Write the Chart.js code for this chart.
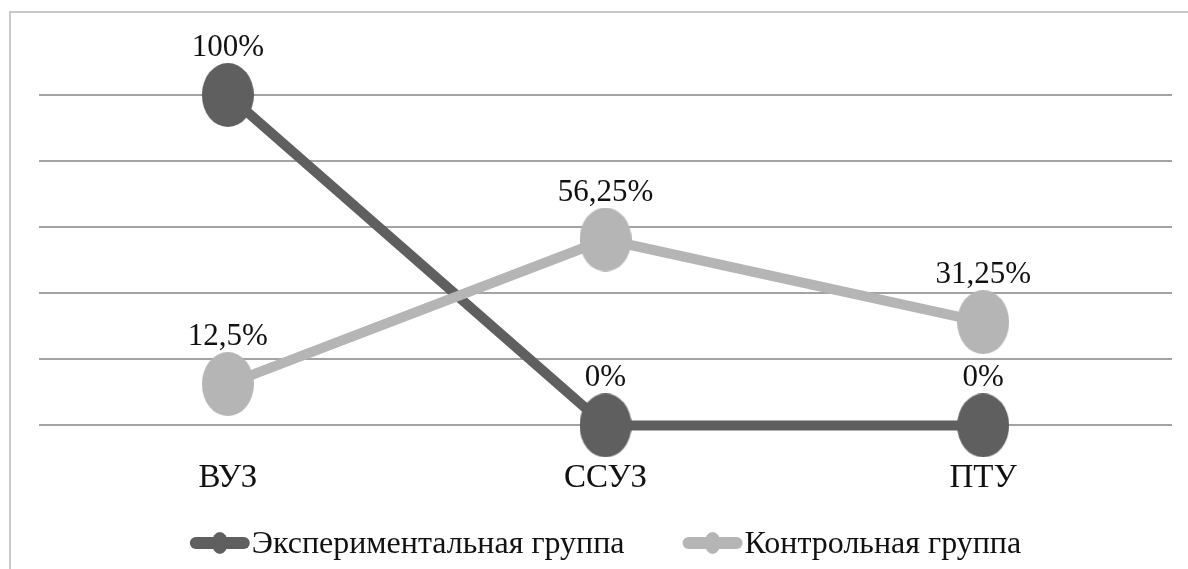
<!DOCTYPE html>
<html>
<head>
<meta charset="utf-8">
<script src="https://cdn.jsdelivr.net/npm/chart.js@4.4.1/dist/chart.umd.min.js"></script>
<style>
    html, body { margin: 0; padding: 0; background: #fff; }
    #wrap { position: relative; width: 1188px; height: 569px; overflow: hidden; }
    #frame { position: absolute; left: 9px; top: 11px; width: 1200px; height: 600px;
             border-left: 2px solid #c9c9c9; border-top: 2px solid #c9c9c9; }
    canvas { position: absolute; left: 0; top: 0; }
</style>
</head>
<body>
<div id="wrap">
    <div id="frame"></div>
    <canvas id="chart" width="1188" height="569"></canvas>
</div>
<script>
const categories = ['ВУЗ', 'ССУЗ', 'ПТУ'];
const seriesNames = ['Экспериментальная группа', 'Контрольная группа'];
const experimentalValues = [100, 0, 0];
const controlValues = [12.5, 56.25, 31.25];
const yTicks = [0, 20, 40, 60, 80, 100];

const DARK = '#5f5f5f';
const LIGHT = '#b5b5b5';
const FAMILY = '"Liberation Serif", "Times New Roman", serif';

function fmt(v) {
    return String(v).replace('.', ',') + '%';
}

// excel-like oval markers
function oval(color, w, h) {
    const c = document.createElement('canvas');
    c.width = w;
    c.height = h;
    const ctx = c.getContext('2d');
    ctx.fillStyle = color;
    ctx.beginPath();
    ctx.ellipse(w / 2, h / 2, w / 2, h / 2, 0, 0, Math.PI * 2);
    ctx.fill();
    return c;
}

const valueLabels = {
    id: 'valueLabels',
    afterDatasetsDraw(chart) {
        const ctx = chart.ctx;
        ctx.save();
        ctx.font = '31px ' + FAMILY;
        ctx.fillStyle = '#111';
        ctx.textAlign = 'center';
        ctx.textBaseline = 'alphabetic';
        chart.data.datasets.forEach((ds, i) => {
            chart.getDatasetMeta(i).data.forEach((pt, j) => {
                ctx.fillText(fmt(ds.data[j]), pt.x, pt.y - 39);
            });
        });
        ctx.restore();
    }
};

const lineLegend = {
    id: 'lineLegend',
    afterDraw(chart) {
        const ctx = chart.ctx;
        const sampleW = 60, gap = 2, itemGap = 58;
        ctx.save();
        ctx.font = '32px ' + FAMILY;
        const items = chart.data.datasets.map(ds => ({
            ds: ds,
            w: sampleW + gap + ctx.measureText(ds.label).width
        }));
        const total = items.reduce((a, it) => a + it.w, 0) + itemGap * (items.length - 1);
        let x = (chart.chartArea.left + chart.chartArea.right) / 2 - total / 2;
        const y = chart.height - 26;
        items.forEach(it => {
            ctx.strokeStyle = it.ds.borderColor;
            ctx.lineWidth = 12;
            ctx.lineCap = 'round';
            ctx.beginPath();
            ctx.moveTo(x + 6, y);
            ctx.lineTo(x + sampleW - 6, y);
            ctx.stroke();
            ctx.fillStyle = it.ds.borderColor;
            ctx.beginPath();
            ctx.ellipse(x + sampleW / 2, y, 8, 11, 0, 0, Math.PI * 2);
            ctx.fill();
            ctx.fillStyle = '#111';
            ctx.textBaseline = 'middle';
            ctx.fillText(it.ds.label, x + sampleW + gap, y + 2);
            x += it.w + itemGap;
        });
        ctx.restore();
    }
};

Chart.defaults.font.family = FAMILY;

new Chart(document.getElementById('chart'), {
    type: 'line',
    data: {
        labels: categories,
        datasets: [{
            label: seriesNames[0],
            data: experimentalValues,
            borderColor: DARK,
            backgroundColor: DARK,
            borderWidth: 10,
            pointStyle: oval(DARK, 52, 64),
            pointRadius: 26,
            pointBorderWidth: 0,
            clip: false,
            order: 2
        }, {
            label: seriesNames[1],
            data: controlValues,
            borderColor: LIGHT,
            backgroundColor: LIGHT,
            borderWidth: 10,
            pointStyle: oval(LIGHT, 52, 64),
            pointRadius: 26,
            pointBorderWidth: 0,
            clip: false,
            order: 1
        }]
    },
    options: {
        responsive: false,
        animation: false,
        layout: { autoPadding: false, padding: { left: 39, right: 16, top: 95, bottom: 38 } },
        scales: {
            x: {
                offset: true,
                grid: { display: false, drawTicks: false },
                border: { display: false },
                ticks: { color: '#111', font: { size: 33 }, padding: 33 }
            },
            y: {
                min: 0,
                max: 100,
                afterBuildTicks: axis => { axis.ticks = yTicks.map(v => ({ value: v })); },
                grid: { color: '#a3a3a3', lineWidth: 2, drawTicks: false },
                border: { display: false },
                ticks: { display: false }
            }
        },
        plugins: {
            legend: { display: false },
            tooltip: { enabled: false }
        }
    },
    plugins: [valueLabels, lineLegend]
});
</script>
</body>
</html>
